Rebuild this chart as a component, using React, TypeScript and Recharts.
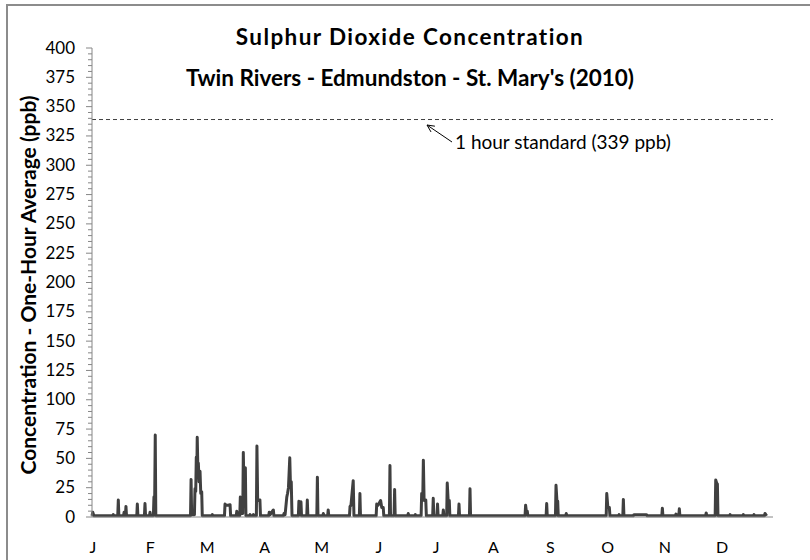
import React from 'react';
import { LineChart, Line, XAxis, YAxis, ReferenceLine } from 'recharts';

const monthLabels = ['J', 'F', 'M', 'A', 'M', 'J', 'J', 'A', 'S', 'O', 'N', 'D'];
const monthTicks = [0.5, 31.2, 61.8, 92.5, 123.1, 153.8, 184.4, 215.1, 245.7, 276.4, 307, 337.7];
const yTicks = Array.from({ length: 81 }, (_, i) => i * 5);
const standard = 339;

// day of year (2010) and one-hour SO2 in ppb
const days = [
  0, 0.4, 1.0, 11.1, 11.4, 11.7, 13.8, 14.1, 14.4, 16.9, 17.2, 17.5, 17.9, 18.2, 18.5,
  24.0, 24.3, 24.6, 28.1, 28.4, 28.7, 30.8, 31.1, 31.4, 32.9, 33.2, 33.6, 33.9, 34.2,
  52.8, 53.1, 53.4, 54.9, 55.2, 55.6, 55.9, 56.2, 56.4, 56.7, 57.0, 57.4, 57.9, 58.3, 58.8, 59.1,
  64.2, 64.5, 64.8, 71.0, 71.3, 72, 73, 74.0, 74.3, 77.3, 77.6, 77.9,
  79.2, 79.5, 79.8, 80.8, 81.1, 81.6, 82.2, 82.5, 84.4, 84.7, 85.0, 86.2, 86.5, 86.8,
  88.1, 88.4, 88.8, 90.0, 90.3, 94.7, 95.0, 95.5, 97.2, 97.5,
  102.6, 102.9, 103.5, 104.4, 104.8, 105.3, 106.0, 106.4, 106.8, 107.2,
  110.6, 110.9, 111.2, 111.7, 112.0, 112.3, 115.1, 115.4, 115.7, 120.5, 120.8, 121.1,
  123.7, 124.0, 124.3, 126.3, 126.6, 126.9, 138.0, 138.3, 138.8, 140.0, 140.4, 143.3, 143.6, 143.9,
  152.3, 152.6, 153.3, 154.7, 155.3, 156.1, 156.4, 159.4, 159.7, 160.0, 161.9, 162.2, 162.5,
  169.2, 169.5, 169.8, 173.0, 173.3, 173.6, 176.4, 176.7, 177.3, 177.6, 178.0, 178.9, 179.2,
  182.6, 182.9, 183.2, 184.9, 185.2, 185.5, 188.0, 188.3, 188.6, 190.1, 190.4, 190.9, 191.5, 191.8,
  196.4, 196.7, 197.0, 202.3, 202.6, 202.9, 232.1, 232.4, 232.8, 233.3, 233.6,
  243.4, 243.7, 244.0, 248.4, 248.7, 249.2, 249.6, 249.9, 253.9, 254.2, 254.5,
  275.6, 275.9, 276.5, 277.3, 277.6, 282.2, 282.5, 282.8, 284.5, 284.8, 285.1,
  290.1, 290.5, 297.2, 297.6, 305.4, 305.7, 306.0, 312.7, 313.0, 313.3, 314.5, 314.8, 315.1,
  328.9, 329.2, 329.5, 334.0, 334.3, 334.8, 335.2, 335.5, 341.7, 342.0, 342.3,
  348.8, 349.1, 349.4, 354.5, 354.8, 355.1, 360.4, 360.7, 361.6,
];
const so2 = [
  1, 4, 1, 1, 2, 1, 1, 14.5, 1, 1, 4, 1, 1, 9, 1,
  1, 11, 1, 1, 11.5, 1, 1, 4, 1, 1, 17, 16, 70, 1,
  1, 32, 2, 2, 24, 22, 51, 40, 68, 45, 46, 30, 39, 20, 21.5, 1,
  1, 2, 1, 1, 11, 10, 10, 10.5, 1, 1, 5, 1,
  1, 17, 3, 3, 55, 10, 42, 1, 1, 2, 1, 1, 2, 1,
  1, 60.5, 14, 14.5, 1, 1, 4, 2, 6, 1,
  1, 3, 2, 17, 20, 25, 50.5, 25, 30, 1,
  1, 13.5, 2, 2, 13, 1, 1, 14.5, 1, 1, 34, 1,
  1, 3, 1, 1, 6, 1, 1, 9, 10, 31, 1, 1, 20, 1,
  1, 11, 10, 14, 8, 8, 1, 1, 44, 1, 1, 23.5, 1,
  1, 3, 1, 1, 2, 1, 1, 20, 18, 48.5, 14, 14.5, 1,
  1, 16, 1, 1, 11, 1, 1, 6, 1, 1, 29, 14, 14, 1,
  1, 11, 1, 1, 24, 1, 1, 10, 5, 5, 1,
  1, 11.5, 1, 1, 27, 13.5, 13.5, 1, 1, 3, 1,
  1, 20, 8, 8, 1, 1, 2, 1, 1, 15, 1,
  1, 2, 2, 1, 1, 7.5, 1, 1, 2.5, 1, 1, 7, 1,
  1, 3.5, 1, 1, 31.5, 29, 28, 1, 1, 2, 1,
  1, 2, 1, 1, 2, 1, 1, 3, 1,
];

const data = days.map((d, i) => ({ day: d, so2: so2[i] }));

const font = 'Lato, "Liberation Sans", sans-serif';

const YTick = (props: any) => {
  const { x, y, payload } = props;
  const v = payload.value;
  const major = v % 25 === 0;
  return (
    <g>
      <line x1={x - (major ? 6 : 4)} x2={x} y1={y} y2={y} stroke="#868686" strokeWidth={1} />
      {major && (
        <text x={x - 17} y={y} dy={5.5} textAnchor="end" fontSize={17} fontFamily={font} fill="#000">
          {v}
        </text>
      )}
    </g>
  );
};

const XTick = (props: any) => {
  const { x, y, index } = props;
  return (
    <text x={x} y={y + 36} textAnchor="middle" fontSize={16} fontFamily={font} fill="#000">
      {monthLabels[index]}
    </text>
  );
};

const StandardLabel = (props: any) => {
  const { viewBox } = props;
  const x0 = viewBox.x;
  const y0 = viewBox.y;
  const tipX = x0 + 335;
  const tipY = y0 + 5.5;
  const tailX = x0 + 360;
  const tailY = y0 + 22.5;
  const ang = Math.atan2(tailY - tipY, tailX - tipX);
  const head = 8;
  const a1 = ang + 0.45;
  const a2 = ang - 0.45;
  return (
    <g>
      <line x1={tailX} y1={tailY} x2={tipX} y2={tipY} stroke="#000" strokeWidth={1} />
      <line x1={tipX} y1={tipY} x2={tipX + head * Math.cos(a1)} y2={tipY + head * Math.sin(a1)} stroke="#000" strokeWidth={1} />
      <line x1={tipX} y1={tipY} x2={tipX + head * Math.cos(a2)} y2={tipY + head * Math.sin(a2)} stroke="#000" strokeWidth={1} />
      <text x={x0 + 363} y={y0 + 29.5} fontSize={19} fontFamily={font} fill="#000">
        1 hour standard (339 ppb)
      </text>
    </g>
  );
};

export default function App() {
  return (
    <div style={{ position: 'absolute', left: 0, top: 0, width: 810, height: 560, background: '#fff', overflow: 'hidden' }}>
      <div
        style={{
          position: 'absolute',
          left: 6,
          top: 4,
          width: 900,
          height: 900,
          borderLeft: '2px solid #8c8c8c',
          borderTop: '2px solid #8c8c8c',
        }}
      />
      <div style={{ position: 'absolute', left: 0, top: 0 }}>
        <LineChart width={810} height={560} data={data} margin={{ top: 48, right: 37, bottom: 13, left: 32 }}>
          <XAxis
            dataKey="day"
            type="number"
            domain={[0, 365]}
            ticks={monthTicks}
            interval={0}
            height={30}
            tickLine={false}
            tickSize={0}
            tickMargin={0}
            axisLine={{ stroke: '#868686', strokeWidth: 1 }}
            tick={<XTick />}
          />
          <YAxis
            type="number"
            domain={[0, 400]}
            ticks={yTicks}
            interval={0}
            width={60}
            tickLine={false}
            tickSize={0}
            tickMargin={0}
            axisLine={{ stroke: '#868686', strokeWidth: 1 }}
            tick={<YTick />}
          />
          <ReferenceLine
            y={standard}
            stroke="#404040"
            strokeWidth={1}
            strokeDasharray="4 3"
            label={<StandardLabel />}
            isFront
          />
          <Line
            type="linear"
            dataKey="so2"
            stroke="#404040"
            strokeWidth={3}
            strokeLinejoin="round"
            dot={false}
            isAnimationActive={false}
          />
        </LineChart>
      </div>
      <svg width={810} height={560} style={{ position: 'absolute', left: 0, top: 0, pointerEvents: 'none' }}>
        <text x={410} y={45} textAnchor="middle" fontSize={22.5} letterSpacing={1.4} fontWeight="bold" fontFamily={font} fill="#000">
          Sulphur Dioxide Concentration
        </text>
        <text x={410} y={86} textAnchor="middle" fontSize={22.5} fontWeight="bold" fontFamily={font} fill="#000">
          Twin Rivers - Edmundston - St. Mary's (2010)
        </text>
        <text
          x={36}
          y={285}
          transform="rotate(-90 36 285)"
          textAnchor="middle"
          fontSize={21}
          fontWeight="bold"
          fontFamily={font}
          fill="#000"
        >
          Concentration - One-Hour Average (ppb)
        </text>
      </svg>
    </div>
  );
}
